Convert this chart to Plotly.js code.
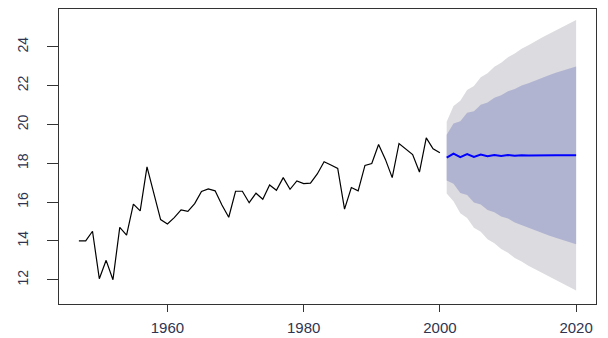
<!DOCTYPE html>
<html>
<head>
<meta charset="utf-8">
<script src="https://cdn.plot.ly/plotly-3.0.1.min.js"></script>
<style>
html,body{margin:0;padding:0;background:#fff;}
#chart{width:608px;height:338px;}
</style>
</head>
<body>
<div id="chart"></div>
<script>
// Historical series
const histYears = [1947,1948,1949,1950,1951,1952,1953,1954,1955,1956,1957,1958,1959,1960,1961,1962,1963,1964,1965,1966,1967,1968,1969,1970,1971,1972,1973,1974,1975,1976,1977,1978,1979,1980,1981,1982,1983,1984,1985,1986,1987,1988,1989,1990,1991,1992,1993,1994,1995,1996,1997,1998,1999,2000];
const histValues = [14.0,14.0,14.5,12.05,13.0,12.0,14.7,14.3,15.9,15.55,17.82,16.4,15.1,14.87,15.2,15.6,15.52,15.92,16.55,16.68,16.58,15.85,15.22,16.56,16.56,15.97,16.46,16.15,16.88,16.61,17.26,16.66,17.09,16.95,16.98,17.45,18.08,17.91,17.74,15.64,16.75,16.58,17.89,17.99,18.97,18.2,17.26,19.02,18.75,18.45,17.55,19.31,18.75,18.54];

// Forecast
const fcYears = [2001,2002,2003,2004,2005,2006,2007,2008,2009,2010,2011,2012,2013,2014,2015,2016,2017,2018,2019,2020];
const fcMean  = [18.29,18.50,18.32,18.48,18.33,18.45,18.36,18.43,18.38,18.43,18.39,18.42,18.40,18.41,18.41,18.41,18.41,18.41,18.41,18.41];
const hi95 = [20.14,20.95,21.22,21.78,21.98,22.43,22.64,22.98,23.18,23.47,23.66,23.90,24.08,24.29,24.48,24.66,24.84,25.02,25.20,25.38];
const hi80 = [19.47,20.05,20.17,20.60,20.68,21.02,21.13,21.38,21.50,21.71,21.83,22.01,22.13,22.28,22.41,22.54,22.66,22.78,22.89,22.99];
const lo80 = [17.11,16.95,16.47,16.36,15.98,15.88,15.59,15.48,15.26,15.15,14.95,14.83,14.67,14.54,14.41,14.28,14.16,14.04,13.93,13.83];
const lo95 = [16.44,16.05,15.42,15.18,14.68,14.47,14.08,13.88,13.58,13.39,13.12,12.94,12.72,12.53,12.34,12.16,11.98,11.80,11.62,11.44];

// Axis ticks
const xTicks = [1960,1980,2000,2020];
const yTicks = [12,14,16,18,20,22,24];

const revYears = fcYears.slice().reverse();
function band(hi, lo, color){
  return {
    x: fcYears.concat(revYears),
    y: hi.concat(lo.slice().reverse()),
    type:'scatter', mode:'lines', fill:'toself',
    fillcolor: color, line:{width:0, color:color},
    hoverinfo:'skip', showlegend:false
  };
}

const traces = [
  band(hi95, lo95, '#dbdbe0'),
  band(hi80, lo80, '#b0b4d0'),
  {x: histYears, y: histValues, type:'scatter', mode:'lines',
   line:{color:'#000000', width:1.2}, showlegend:false},
  {x: fcYears, y: fcMean, type:'scatter', mode:'lines',
   line:{color:'#0000ff', width:2}, showlegend:false}
];

const xFont = {family:'Liberation Sans, Arial, sans-serif', size:15, color:'#2f3550'};
const yFont = {family:'Liberation Sans, Arial, sans-serif', size:14, color:'#2f3550'};

const layout = {
  width:608, height:338,
  margin:{l:59, r:12, t:9, b:34},
  paper_bgcolor:'#ffffff', plot_bgcolor:'#ffffff',
  showlegend:false,
  xaxis:{
    range:[1944.08, 2022.92],
    tickvals:xTicks, ticktext:xTicks.map(String),
    ticks:'outside', ticklen:7, tickwidth:1, tickcolor:'#333333',
    showline:true, linecolor:'#333333', linewidth:1, mirror:true,
    showgrid:false, zeroline:false,
    tickfont:xFont, ticklabelstandoff:3
  },
  yaxis:{
    range:[10.75, 25.95],
    tickvals:yTicks, ticktext:yTicks.map(String),
    ticks:'outside', ticklen:11, tickwidth:1, tickcolor:'#333333',
    showline:true, linecolor:'#333333', linewidth:1, mirror:true,
    showgrid:false, zeroline:false,
    tickangle:-90,
    tickfont:yFont, ticklabelstandoff:13
  }
};

Plotly.newPlot('chart', traces, layout, {staticPlot:true, displayModeBar:false});
</script>
</body>
</html>
